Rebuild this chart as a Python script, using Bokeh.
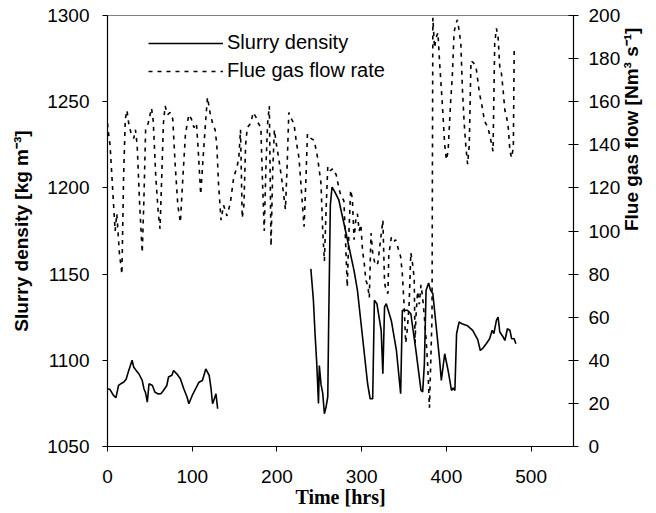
import math
from bokeh.plotting import figure
from bokeh.models import Range1d, LinearAxis, FixedTicker, Legend, LegendItem
from bokeh.embed import file_html
from bokeh.resources import INLINE

nan = float("nan")

# Slurry density [kg m-3] vs time [hrs] (NaN = data gap)
slurry_time = [0, 3, 7, 10, 13, 16, 19, 22, 25, 29, 31, 34, 37, 41, 43, 45, 47, 49, 53, 56,
               60, 63, 66, 70, 72, 76, 78, 82, 86, 90, 94, 96, 100, 104, 108, 112, 116, 120,
               122, 124, 126, 128, 130, nan,
               240, 243, 245, 247, 249, 250, 252, 254, 256, 258, 260, 261, 263, 265, 268,
               273, 279, 285, 291, 295, 301, 307, 310, 313, 315, 318, 323, 325, 327, 329,
               335, 341, 346, 348, 354, 358, 364, 370, 372, 374, 376, 379, 381, 384, 388,
               392, 394, 398, 402, 406, 408, 410, 412, 415, 419, 425, 431, 437, 440, 443,
               447, 451, 454, 456, 459, 461, 463, 467, 469, 472, 475, 477, 480, 482]
slurry_density = [1083.5, 1083, 1079.6, 1078.3, 1085.4, 1086.5, 1087.3, 1089, 1094, 1100,
                  1096, 1094, 1092.2, 1088.3, 1083.5, 1081, 1075.7, 1086.4, 1085.4, 1081.5,
                  1080.5, 1080.6, 1082.5, 1085.4, 1090.3, 1091.3, 1094.1, 1092, 1089.3, 1083.5,
                  1078.6, 1074.8, 1079.6, 1083.5, 1087.3, 1088.3, 1095, 1091.3, 1084.5, 1074.8,
                  1077.6, 1080.6, 1071.9, nan,
                  1153, 1135, 1115, 1098, 1075, 1097, 1086, 1081, 1069, 1073, 1079, 1120, 1190,
                  1200.5, 1198, 1193, 1179.5, 1165.7, 1152, 1140.6, 1113.5, 1086.4, 1077.7,
                  1077.7, 1134.8, 1132.8, 1117.4, 1092.2, 1131, 1132.8, 1123, 1105.7, 1080.6,
                  1129, 1129, 1127, 1105.7, 1082.5, 1081.6, 1098, 1140.6, 1144.8, 1141, 1138.6,
                  1119.3, 1100, 1088.3, 1103.8, 1094.1, 1082.5, 1084, 1082.5, 1115.4, 1122.2,
                  1121, 1120, 1117.4, 1112, 1105.7, 1107, 1109.6, 1112.5, 1117.4, 1115.5,
                  1123.2, 1125, 1116.4, 1113.5, 1111.5, 1118.3, 1117.4, 1112.5, 1112.5, 1109.6]

# Flue gas flow rate [Nm3 s-1] vs time [hrs]
flow_time = [0, 1, 3, 6, 9, 11, 14, 17, 19, 21, 23, 25, 28, 31, 33, 35, 38, 41, 43, 45,
             48, 52, 54, 57, 60, 62, 64, 66, 68, 71, 74, 77, 80, 83, 86, 89, 92, 96, 99, 102,
             105, 107, 110, 113, 116, 118, 121, 124, 127, 129, 131, 134, 137, 141, 145, 149,
             153, 155, 157, 159, 161, 163, 165, 169, 172, 175, 178, 181, 183, 185, 187, 189,
             191, 193, 195, 197, 199, 202, 206, 210, 212, 214, 217, 220, 223, 226, 229, 232,
             234, 236, 240, 244, 246, 248, 250, 252, 254, 256, 258, 260, 263, 266, 270, 273,
             275, 279, 281, 283, 285, 287, 289, 291, 293, 295, 297, 299, 301, 303, 305, 307,
             309, 311, 313, 315, 317, 319, 322, 325, 327, 329, 331, 332, 335, 338, 340, 343,
             346, 348, 350, 352, 354, 356, 358, 360, 362, 363, 364, 366, 368, 370, 372, 374,
             376, 378, 380, 383, 384, 386, 388, 390, 392, 395, 398, 400, 402, 405, 407, 409,
             411, 413, 415, 417, 419, 421, 423, 425, 427, 429, 432, 435, 437, 439, 442, 445,
             449, 452, 455, 457, 459, 461, 463, 465, 467, 469, 471, 473, 475, 477, 479, 480]
flow_rate = [150, 146, 140, 120, 100, 108, 90, 80, 125, 152, 156, 150, 145, 143, 147, 140,
             112, 90, 115, 147, 150, 157, 151, 125, 108, 101, 125, 150, 158, 154, 155, 152,
             130, 112, 104, 125, 145, 154, 152, 148, 150, 138, 117, 135, 152, 162, 155, 150,
             147, 140, 122, 105, 112, 107, 113, 125, 130, 134, 147, 106, 112, 140, 148, 150,
             155, 153, 150, 148, 122, 100, 130, 150, 158, 93, 128, 147, 141, 134, 123, 110,
             130, 155, 152, 150, 141, 134, 118, 102, 122, 145, 143, 142, 138, 134, 128, 122,
             100, 86, 110, 130, 128, 129, 126, 120, 117, 114, 95, 74, 100, 119, 115, 96, 105,
             108, 100, 103, 91, 85, 77, 75, 69, 99, 90, 86, 84, 85, 95, 105, 76, 72, 71, 89,
             97, 95, 96, 92, 88, 80, 66, 48, 55, 66, 90, 85, 78, 48, 60, 72, 66, 75, 69, 60,
             50, 37, 18, 60, 199, 185, 190, 192, 178, 160, 140, 133, 137, 160, 172, 192, 196,
             198, 193, 187, 165, 150, 139, 131, 140, 179, 178, 176, 170, 164, 158, 151, 148,
             143, 137, 187, 194, 190, 176, 173, 165, 156, 153, 148, 137, 134, 139, 184]

time_ticks = [0, 100, 200, 300, 400, 500]
density_ticks = [1050, 1100, 1150, 1200, 1250, 1300]
flow_ticks = [0, 20, 40, 60, 80, 100, 120, 140, 160, 180, 200]

SANS = "Liberation Sans"
SERIF = "Liberation Serif"

p = figure(width=656, height=513, x_range=Range1d(0, 550), y_range=Range1d(1050, 1300),
           output_backend="svg", toolbar_location=None,
           min_border_left=107, min_border_right=83, min_border_top=15, min_border_bottom=67)
p.extra_y_ranges = {"flow": Range1d(0, 200)}
p.xgrid.visible = False
p.ygrid.visible = False
p.outline_line_color = "#808080"
p.outline_line_width = 1
p.background_fill_color = "white"
p.border_fill_color = "white"

flow_r = p.line(flow_time, flow_rate, y_range_name="flow", line_color="black",
                line_width=1.6, line_dash="4 5")
slurry_r = p.line(slurry_time, slurry_density, line_color="black", line_width=1.6)

def style_axis(ax, tick_in, tick_out):
    ax.axis_line_color = "black"
    ax.axis_line_width = 1.2
    ax.major_tick_line_color = "black"
    ax.major_tick_in = tick_in
    ax.major_tick_out = tick_out
    ax.minor_tick_line_color = None
    ax.major_label_text_font = SANS
    ax.major_label_text_font_size = "19px"
    ax.major_label_text_color = "black"
    ax.axis_label_text_font = SANS
    ax.axis_label_text_font_style = "bold"
    ax.axis_label_text_font_size = "19px"
    ax.axis_label_text_color = "black"

xa = p.xaxis[0]
xa.ticker = FixedTicker(ticks=time_ticks)
style_axis(xa, 0, 5)
xa.axis_label = "Time [hrs]"
xa.axis_label_text_font = SERIF
xa.axis_label_text_font_size = "20px"
xa.major_label_standoff = 18
xa.axis_label_standoff = 0

ya = p.yaxis[0]
ya.ticker = FixedTicker(ticks=density_ticks)
style_axis(ya, 0, 5)
ya.axis_label = "Slurry density [kg m⁻³]"
ya.major_label_standoff = 13
ya.axis_label_standoff = 12

ra = LinearAxis(y_range_name="flow", ticker=FixedTicker(ticks=flow_ticks))
style_axis(ra, 5, 5)
ra.axis_label = "Flue gas flow [Nm³ s⁻¹]"
ra.major_label_standoff = 10
ra.axis_label_standoff = 8
ra.axis_label_text_baseline = "top"
ra.axis_label_orientation = math.pi / 2
p.add_layout(ra, "right")

legend = Legend(items=[LegendItem(label="Slurry density", renderers=[slurry_r]),
                       LegendItem(label="Flue gas flow rate", renderers=[flow_r])],
                location=(41, 364))
legend.border_line_color = None
legend.background_fill_alpha = 0
legend.padding = 0
legend.margin = 0
legend.spacing = 5
legend.glyph_width = 75
legend.glyph_height = 20
legend.label_height = 20
legend.label_standoff = 4
legend.label_text_font = SANS
legend.label_text_font_size = "20px"
legend.label_text_color = "black"
p.add_layout(legend)

open("out.html", "w").write(file_html(p, INLINE))
